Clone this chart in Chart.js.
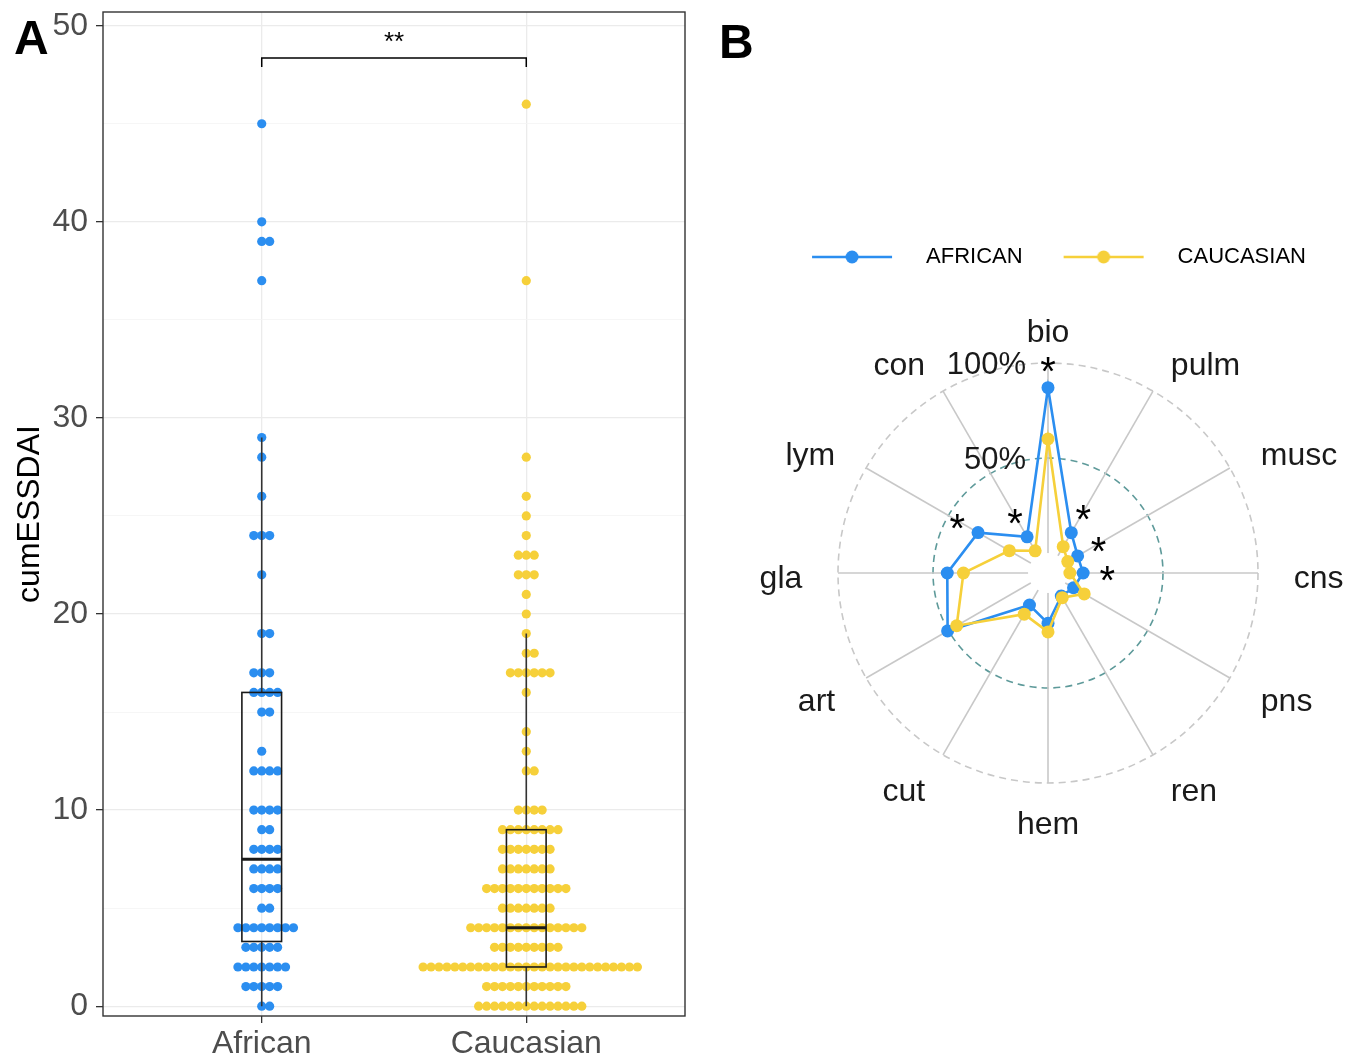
<!DOCTYPE html>
<html>
<head>
<meta charset="utf-8">
<script src="https://cdn.jsdelivr.net/npm/chart.js@4.4.1/dist/chart.umd.min.js"></script>
<style>
  html, body { margin: 0; padding: 0; background: #fff; }
  #wrap { position: relative; width: 1357px; height: 1059px; font-family: "Liberation Sans", Arial, sans-serif; }
  #dotWrap { position: absolute; left: 0; top: 0; width: 700px; height: 1059px; }
  #radarWrap { position: absolute; left: 700px; top: 0; width: 657px; height: 1059px; }
  .tag { position: absolute; font-weight: bold; font-size: 48px; line-height: 48px; color: #000; }
</style>
</head>
<body>
<div id="wrap">
  <div id="dotWrap"><canvas id="dotChart" width="700" height="1059"></canvas></div>
  <div id="radarWrap"><canvas id="radarChart" width="657" height="1059"></canvas></div>
  <div class="tag" style="left:14px;top:14px">A</div>
  <div class="tag" style="left:719px;top:18px">B</div>
</div>
<script>
const FONT = '"Liberation Sans", Arial, sans-serif';
const BLUE = '#2b8ef0';
const YELLOW = '#f6d03a';

// panel A - cumESSDAI scores and how many patients have each score
const groups = ['African', 'Caucasian'];
const africanScores = [0, 1, 2, 3, 4, 5, 6, 7, 8, 9, 10, 12, 13, 15, 16, 17, 19, 22, 24, 26, 28, 29, 37, 39, 40, 45];
const africanCounts = [2, 5, 7, 5, 8, 2, 4, 4, 4, 2, 4, 4, 1, 2, 4, 3, 2, 1, 3, 1, 1, 1, 1, 2, 1, 1];
const caucasianScores = [0, 1, 2, 3, 4, 5, 6, 7, 8, 9, 10, 12, 13, 14, 16, 17, 18, 19, 20, 21, 22, 23, 24, 25, 26, 28, 37, 46];
const caucasianCounts = [14, 11, 28, 9, 15, 7, 11, 7, 7, 8, 4, 2, 1, 1, 1, 6, 2, 1, 1, 1, 3, 3, 1, 1, 1, 1, 1, 1];

// box plot stats
const boxQ1 = [3.3, 2];
const boxMedian = [7.5, 4];
const boxQ3 = [16, 9];
const whiskerLow = [0, 0];
const whiskerHigh = [29, 19];

const yMajor = [0, 10, 20, 30, 40, 50];
const yMinor = [5, 15, 25, 35, 45];
const sigLabel = '**';
const sigY = 48.35;

// panel B - % of patients with activity in each domain
const organs = ['bio', 'pulm', 'musc', 'cns', 'pns', 'ren', 'hem', 'cut', 'art', 'gla', 'lym', 'con'];
const africanPct = [87, 14, 7.5, 8, 5, 3.5, 16, 9, 50.5, 42.5, 32, 11.5];
const caucasianPct = [60, 5.5, 1.5, 1, 11.5, 4.5, 20.5, 14.5, 45, 34, 13, 3];
const radarGrid = [0, 50, 100];
const starredOrgans = ['bio', 'pulm', 'musc', 'cns', 'lym', 'con'];

const dotStep = 0.03;   // x units between neighbouring dots of a stack
const boxWidth = 0.15;

// centred stacks like geom_dotplot(stackdir = "centerwhole")
function stackDots(groupIndex, scores, counts) {
  const pts = [];
  scores.forEach((v, i) => {
    const n = counts[i];
    const shift = Math.floor((n - 1) / 2);
    for (let k = 0; k < n; k++) {
      pts.push({ x: groupIndex + 1 + (k - shift) * dotStep, y: v });
    }
  });
  return pts;
}

const panelA = {
  id: 'panelA',
  afterDatasetsDraw(chart) {
    const { ctx, chartArea, scales: { x, y } } = chart;
    ctx.save();
    groups.forEach((g, i) => {
      const cx = x.getPixelForValue(i + 1);
      const half = x.getPixelForValue(i + 1 + boxWidth / 2) - cx;
      const top = y.getPixelForValue(boxQ3[i]);
      const bot = y.getPixelForValue(boxQ1[i]);
      ctx.strokeStyle = '#333';
      ctx.lineWidth = 1.6;
      ctx.beginPath();
      ctx.moveTo(cx, y.getPixelForValue(whiskerHigh[i]));
      ctx.lineTo(cx, top);
      ctx.moveTo(cx, bot);
      ctx.lineTo(cx, y.getPixelForValue(whiskerLow[i]));
      ctx.stroke();
      ctx.strokeStyle = '#1a1a1a';
      ctx.strokeRect(cx - half, top, half * 2, bot - top);
      const m = y.getPixelForValue(boxMedian[i]);
      ctx.lineWidth = 3;
      ctx.beginPath();
      ctx.moveTo(cx - half, m);
      ctx.lineTo(cx + half, m);
      ctx.stroke();
    });

    // significance bracket
    const x1 = x.getPixelForValue(1), x2 = x.getPixelForValue(2);
    const by = y.getPixelForValue(sigY), drop = y.getPixelForValue(sigY - 0.45);
    ctx.strokeStyle = '#000';
    ctx.lineWidth = 1.5;
    ctx.beginPath();
    ctx.moveTo(x1, drop);
    ctx.lineTo(x1, by);
    ctx.lineTo(x2, by);
    ctx.lineTo(x2, drop);
    ctx.stroke();
    ctx.fillStyle = '#000';
    ctx.font = '26px ' + FONT;
    ctx.textAlign = 'center';
    ctx.textBaseline = 'middle';
    ctx.fillText(sigLabel, (x1 + x2) / 2, y.getPixelForValue(sigY + 1.1) + 6);

    ctx.strokeStyle = '#333';
    ctx.lineWidth = 1.4;
    ctx.strokeRect(chartArea.left, chartArea.top, chartArea.width, chartArea.height);
    ctx.restore();
  }
};

new Chart(document.getElementById('dotChart'), {
  type: 'scatter',
  data: {
    datasets: [
      { label: groups[0], data: stackDots(0, africanScores, africanCounts), backgroundColor: BLUE, pointRadius: 4.6, pointHoverRadius: 4.6, pointBorderWidth: 0 },
      { label: groups[1], data: stackDots(1, caucasianScores, caucasianCounts), backgroundColor: YELLOW, pointRadius: 4.6, pointHoverRadius: 4.6, pointBorderWidth: 0 }
    ]
  },
  options: {
    responsive: false,
    animation: false,
    layout: { padding: { top: 12, right: 15, left: 0, bottom: 0 } },
    plugins: { legend: { display: false }, tooltip: { enabled: false } },
    scales: {
      x: {
        type: 'linear',
        min: 0.4,
        max: 2.6,
        afterBuildTicks: s => { s.ticks = groups.map((g, i) => ({ value: i + 1 })); },
        afterFit: s => { s.height = 43; s.paddingLeft = 0; s.paddingRight = 0; },
        ticks: { callback: v => groups[v - 1], font: { family: FONT, size: 32 }, color: '#4d4d4d', padding: 2, maxRotation: 0, autoSkip: false },
        grid: { color: '#ebebeb', lineWidth: 1.3, tickColor: '#333', tickLength: 7 },
        border: { display: false }
      },
      y: {
        min: -0.5,
        max: 50.7,
        afterBuildTicks: s => { s.ticks = yMajor.concat(yMinor).sort((a, b) => a - b).map(v => ({ value: v })); },
        // fixed axis width; no extra room above/below for the end labels
        afterFit: s => { s.width = 103; s.paddingTop = 0; s.paddingBottom = 0; },
        ticks: { callback: v => (yMajor.includes(v) ? v : ''), font: { family: FONT, size: 32 }, color: '#4d4d4d', padding: 8 },
        grid: {
          color: c => (yMajor.includes(c.tick.value) ? '#ebebeb' : '#f4f4f4'),
          lineWidth: c => (yMajor.includes(c.tick.value) ? 1.3 : 0.8),
          tickColor: c => (yMajor.includes(c.tick.value) ? '#333' : 'rgba(0,0,0,0)'),
          tickLength: 7
        },
        title: { display: true, text: 'cumESSDAI', font: { family: FONT, size: 32 }, color: '#000', padding: { top: 11, bottom: 0 } },
        border: { display: false }
      }
    }
  },
  plugins: [panelA]
});

// legend marker: a line with a dot on it
function legendIcon(color) {
  const c = document.createElement('canvas');
  c.width = 125;
  c.height = 16;
  const g = c.getContext('2d');
  g.strokeStyle = color;
  g.lineWidth = 2.6;
  g.beginPath();
  g.moveTo(22, 8);
  g.lineTo(102, 8);
  g.stroke();
  g.fillStyle = color;
  g.beginPath();
  g.arc(62, 8, 6.5, 0, Math.PI * 2);
  g.fill();
  return c;
}
const legendIcons = [legendIcon(BLUE), legendIcon(YELLOW)];

const radarDecor = {
  id: 'radarDecor',
  beforeDatasetsDraw(chart) {
    const r = chart.scales.r, ctx = chart.ctx;
    ctx.save();
    ctx.fillStyle = '#fff';
    ctx.beginPath();
    ctx.arc(r.xCenter, r.yCenter, r.getDistanceFromCenterForValue(0), 0, Math.PI * 2);
    ctx.fill();
    ctx.restore();
  },
  afterDatasetsDraw(chart) {
    const r = chart.scales.r, ctx = chart.ctx;
    const outer = r.getDistanceFromCenterForValue(r.max);
    ctx.save();
    ctx.fillStyle = '#1a1a1a';
    ctx.font = '32px ' + FONT;
    ctx.textBaseline = 'middle';
    organs.forEach((name, i) => {
      const p = r.getPointPosition(i, outer * 1.17);
      const dx = p.x - r.xCenter;
      ctx.textAlign = Math.abs(dx) < 1 ? 'center' : (dx > 0 ? 'left' : 'right');
      ctx.fillText(name, p.x, p.y + 6);
    });
    ctx.font = '31px ' + FONT;
    ctx.textAlign = 'right';
    radarGrid.slice(1).forEach(v => {
      const p = r.getPointPositionForValue(0, v);
      ctx.fillText(v + '%', p.x - 22, p.y + 2);
    });
    ctx.fillStyle = '#000';
    ctx.font = '40px ' + FONT;
    ctx.textAlign = 'center';
    starredOrgans.forEach(name => {
      const i = organs.indexOf(name);
      const d = r.getDistanceFromCenterForValue(Math.max(africanPct[i], caucasianPct[i])) + 24;
      const p = r.getPointPosition(i, d);
      ctx.fillText('*', p.x, p.y + 10);
    });
    ctx.restore();
  }
};

new Chart(document.getElementById('radarChart'), {
  type: 'radar',
  data: {
    labels: organs,
    datasets: [
      { label: 'AFRICAN', data: africanPct, borderColor: BLUE, backgroundColor: BLUE, pointBackgroundColor: BLUE, borderWidth: 2.6, pointRadius: 6.5, pointHoverRadius: 6.5, pointBorderWidth: 0, fill: false, order: 2 },
      { label: 'CAUCASIAN', data: caucasianPct, borderColor: YELLOW, backgroundColor: YELLOW, pointBackgroundColor: YELLOW, borderWidth: 2.6, pointRadius: 6.5, pointHoverRadius: 6.5, pointBorderWidth: 0, fill: false, order: 1 }
    ]
  },
  options: {
    responsive: false,
    animation: false,
    layout: { padding: { top: 227, right: 0, bottom: 276, left: 39 } },
    plugins: {
      tooltip: { enabled: false },
      legend: {
        position: 'top',
        labels: {
          usePointStyle: true,
          pointStyleWidth: 125,
          padding: 19,
          color: '#1a1a1a',
          font: { family: FONT, size: 22 },
          generateLabels: chart => chart.data.datasets.map((ds, i) => ({
            text: ds.label, pointStyle: legendIcons[i], datasetIndex: i, hidden: false,
            fillStyle: ds.borderColor, strokeStyle: ds.borderColor, lineWidth: 0
          }))
        }
      },
      // empty title used as a gap between the legend and the radar
      title: { display: true, text: '', weight: 100, padding: { top: 0, bottom: 73 }, font: { size: 10 } }
    },
    scales: {
      r: {
        min: -10.5,
        max: 100,
        afterBuildTicks: s => { s.ticks = radarGrid.map(v => ({ value: v })); },
        ticks: { display: false },
        pointLabels: { display: false },
        grid: {
          circular: true,
          color: c => (c.tick.value === 50 ? '#5e9a9a' : (c.tick.value === 100 ? '#c8c8c8' : 'rgba(0,0,0,0)')),
          lineWidth: 1.6
        },
        border: { dash: [7, 5] },
        angleLines: { color: '#c8c8c8', lineWidth: 1.6 }
      }
    }
  },
  plugins: [radarDecor]
});
</script>
</body>
</html>
